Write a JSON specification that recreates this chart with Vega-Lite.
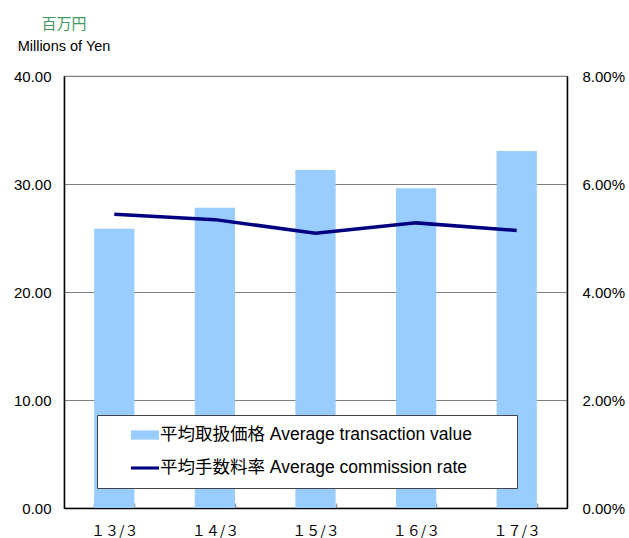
{
  "$schema": "https://vega.github.io/schema/vega-lite/v6.json",
  "width": 503,
  "height": 432,
  "autosize": "none",
  "padding": {"left": 64, "top": 76, "right": 62, "bottom": 30},
  "background": "white",
  "title": {
    "text": "百万円",
    "subtitle": "Millions of Yen",
    "anchor": "start",
    "align": "center",
    "frame": "group",
    "font": "Noto Sans CJK JP",
    "fontSize": 15,
    "fontWeight": "normal",
    "color": "#3d9b60",
    "subtitleFont": "Liberation Sans",
    "subtitleFontSize": 14.5,
    "subtitleColor": "#000000",
    "subtitlePadding": 8,
    "offset": 16
  },
  "data": {
    "values": [
      {"period": "１３/３", "series": "平均取扱価格 Average transaction value", "value": 25.85},
      {"period": "１４/３", "series": "平均取扱価格 Average transaction value", "value": 27.8},
      {"period": "１５/３", "series": "平均取扱価格 Average transaction value", "value": 31.3},
      {"period": "１６/３", "series": "平均取扱価格 Average transaction value", "value": 29.6},
      {"period": "１７/３", "series": "平均取扱価格 Average transaction value", "value": 33.05},
      {"period": "１３/３", "series": "平均手数料率 Average commission rate", "value": 0.0544},
      {"period": "１４/３", "series": "平均手数料率 Average commission rate", "value": 0.0534},
      {"period": "１５/３", "series": "平均手数料率 Average commission rate", "value": 0.0509},
      {"period": "１６/３", "series": "平均手数料率 Average commission rate", "value": 0.0528},
      {"period": "１７/３", "series": "平均手数料率 Average commission rate", "value": 0.0514}
    ]
  },
  "encoding": {
    "x": {
      "field": "period",
      "type": "ordinal",
      "sort": null,
      "scale": {"paddingInner": 0.6, "paddingOuter": 0.3},
      "axis": {
        "title": null,
        "labelAngle": 0,
        "labelFont": "Noto Sans CJK JP",
        "labelFontSize": 14,
        "labelColor": "#000000",
        "labelPadding": 21,
        "domainColor": "#000000",
        "domainWidth": 1.5,
        "tickBand": "extent",
        "tickSize": -5,
        "tickColor": "#999999",
        "tickWidth": 1.5,
        "grid": false
      }
    }
  },
  "layer": [
    {
      "transform": [{"filter": "datum.series === '平均取扱価格 Average transaction value'"}],
      "mark": {"type": "bar", "opacity": 1, "color": "#99ccff"},
      "encoding": {
        "y": {
          "field": "value",
          "type": "quantitative",
          "scale": {"domain": [0, 40], "nice": false},
          "axis": {
            "title": null,
            "values": [0, 10, 20, 30, 40],
            "format": ".2f",
            "labelFont": "Liberation Sans",
            "labelFontSize": 15,
            "labelColor": "#000000",
            "labelPadding": 13,
            "ticks": false,
            "domainColor": "#000000",
            "domainWidth": 1.5,
            "grid": true,
            "gridColor": "#808080",
            "gridWidth": 1.2
          }
        }
      }
    },
    {
      "transform": [{"filter": "datum.series === '平均手数料率 Average commission rate'"}],
      "mark": {"type": "line", "strokeWidth": 3.5, "opacity": 1, "color": "#000080"},
      "encoding": {
        "y": {
          "field": "value",
          "type": "quantitative",
          "scale": {"domain": [0, 0.08], "nice": false},
          "axis": {
            "title": null,
            "orient": "right",
            "values": [0, 0.02, 0.04, 0.06, 0.08],
            "format": ".2%",
            "labelFont": "Liberation Sans",
            "labelFontSize": 15,
            "labelColor": "#000000",
            "labelPadding": 15,
            "ticks": false,
            "domainColor": "#000000",
            "domainWidth": 1.5,
            "grid": false
          }
        }
      }
    },
    {
      "mark": {"type": "point", "filled": true, "opacity": 0},
      "encoding": {
        "color": {
          "field": "series",
          "type": "nominal",
          "scale": {
            "domain": ["平均取扱価格 Average transaction value", "平均手数料率 Average commission rate"],
            "range": ["#99ccff", "#000080"]
          },
          "legend": {
            "title": null,
            "orient": "none",
            "legendX": 33,
            "legendY": 339,
            "fillColor": "#ffffff",
            "strokeColor": "#444444",
            "padding": 6,
            "symbolOffset": 28,
            "symbolSize": 784,
            "symbolOpacity": 1,
            "symbolStrokeWidth": 0,
            "clipHeight": 28,
            "labelFont": "Liberation Sans, Noto Sans CJK JP",
            "labelFontSize": 17.5,
            "labelColor": "#000000",
            "labelOffset": 1,
            "labelLimit": 600,
            "rowPadding": 5,
            "labelExpr": "datum.label + '\u2800\u2800\u2800'"
          }
        },
        "shape": {
          "field": "series",
          "type": "nominal",
          "scale": {
            "domain": ["平均取扱価格 Average transaction value", "平均手数料率 Average commission rate"],
            "range": ["M-1,-0.33H1V0.33H-1Z", "M-1,-0.11H1V0.11H-1Z"]
          },
          "legend": {
            "title": null,
            "orient": "none",
            "legendX": 33,
            "legendY": 339,
            "fillColor": "#ffffff",
            "strokeColor": "#444444",
            "padding": 6,
            "symbolOffset": 28,
            "symbolSize": 784,
            "symbolOpacity": 1,
            "symbolStrokeWidth": 0,
            "clipHeight": 28,
            "labelFont": "Liberation Sans, Noto Sans CJK JP",
            "labelFontSize": 17.5,
            "labelColor": "#000000",
            "labelOffset": 1,
            "labelLimit": 600,
            "rowPadding": 5,
            "labelExpr": "datum.label + '\u2800\u2800\u2800'"
          }
        }
      }
    }
  ],
  "resolve": {"scale": {"y": "independent"}},
  "config": {
    "view": {"stroke": "#808080", "strokeWidth": 1.2}
  }
}
